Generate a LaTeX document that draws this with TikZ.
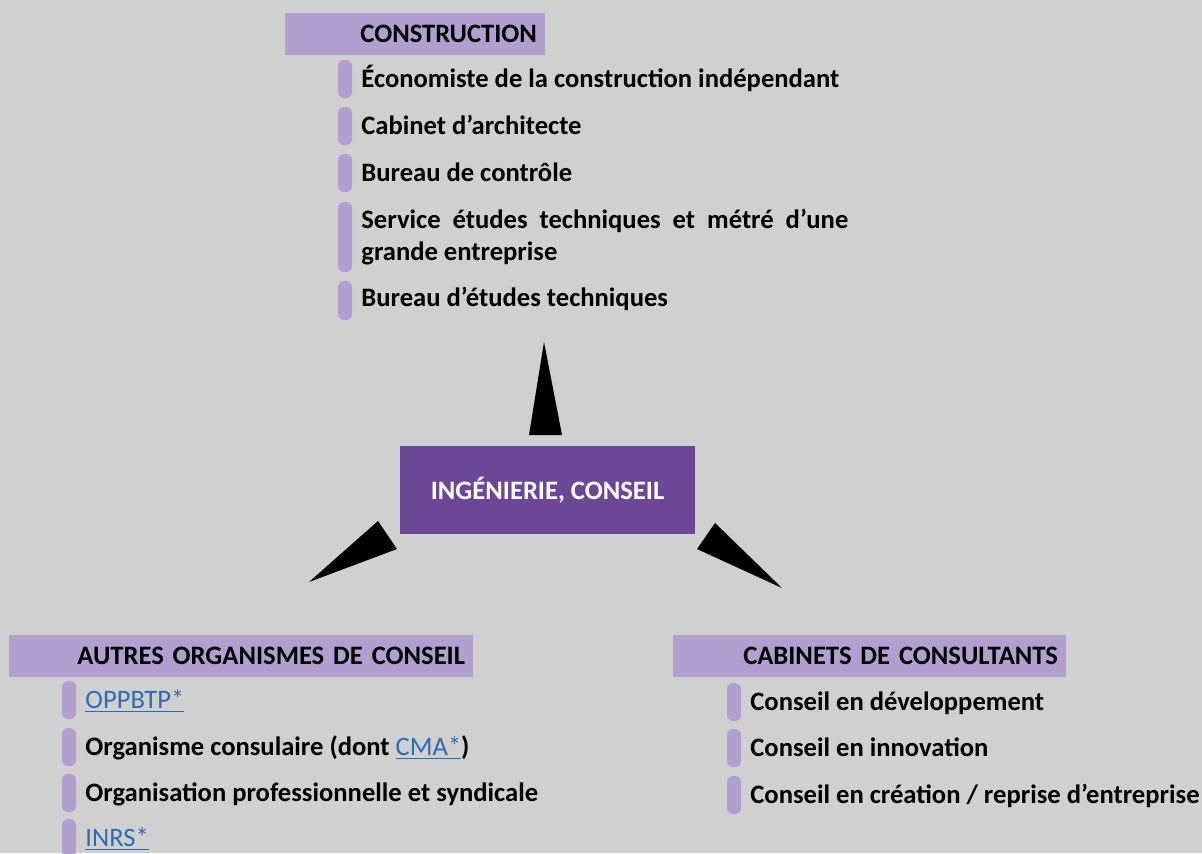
\documentclass[tikz,border=0pt]{standalone}
\usepackage{fontspec}
\setmainfont{Carlito}
\definecolor{pagegray}{RGB}{208,208,208}
\definecolor{headlilac}{RGB}{177,160,207}
\definecolor{corepurple}{RGB}{108,71,150}
\definecolor{linkblue}{RGB}{46,108,178}
\newcommand{\weblink}[1]{{\mdseries\color{linkblue}\underline{#1}}}

\begin{document}
\begin{tikzpicture}[x=0.5pt,y=-0.5pt,
  head/.style={fill=headlilac, inner xsep=4pt, inner ysep=0pt, minimum height=21pt,
    align=right, font=\fontsize{13.3}{16}\selectfont\bfseries},
  core/.style={fill=corepurple, text=white, minimum width=147.5pt, minimum height=44pt,
    font=\fontsize{13.3}{16}\selectfont\bfseries},
  entry/.style={anchor=base west, inner sep=0pt, font=\fontsize{13.3}{16}\selectfont\bfseries},
  tab/.style={fill=headlilac, rounded corners=3pt},
  wedge/.style={fill=black}]
\fill[pagegray] (0,0) rectangle (1202,853);
\useasboundingbox (0,0) rectangle (1202,853);

% centre
\node[core] (core) at (547.5,490) {INGÉNIERIE, CONSEIL};

% top branch
\node[head, text width=122pt] (build) at (415,33.5) {CONSTRUCTION};
\foreach \y/\txt [count=\i] in {79/{Économiste de la construction indépendant},
    126/{Cabinet d’architecte}, 173/{Bureau de contrôle}}{
  \fill[tab] (338,\y-19) rectangle (352,\y+19);
  \node[entry] (build\i) at (361,\y+8.5) {\txt};
}
\fill[tab] (338,202) rectangle (352,272);
\node[entry, text width=243.5pt, align=justify] (build4) at (361,228.5)
  {Service études techniques et métré d’une\linebreak grande entreprise};
\fill[tab] (338,281) rectangle (352,320);
\node[entry] (build5) at (361,306.5) {Bureau d’études techniques};

% left branch
\node[head, text width=224pt] (other) at (241,656) {AUTRES ORGANISMES DE CONSEIL};
\foreach \y/\txt [count=\i] in {700/{\weblink{OPPBTP*}},
    747/{Organisme consulaire (dont \weblink{CMA*})},
    793/{Organisation professionnelle et syndicale}, 838/{\weblink{INRS*}}}{
  \fill[tab] (62,\y-19) rectangle (76,\y+19);
  \node[entry] (other\i) at (85,\y+8.5) {\txt};
}

% right branch
\node[head, text width=188.5pt] (advice) at (869.5,656) {CABINETS DE CONSULTANTS};
\foreach \y/\txt [count=\i] in {702/{Conseil en développement},
    748/{Conseil en innovation}, 795/{Conseil en création / reprise d’entreprise}}{
  \fill[tab] (727,\y-19) rectangle (741,\y+19);
  \node[entry] (advice\i) at (750,\y+8.5) {\txt};
}

% wedges pointing out of the centre
\fill[wedge] (544,342) -- (562,435) -- (529,435) -- cycle;
\fill[wedge] (378,521) -- (397,549) -- (309,582) -- cycle;
\fill[wedge] (697,549) -- (715,523) -- (782,588) -- cycle;
\end{tikzpicture}
\end{document}
